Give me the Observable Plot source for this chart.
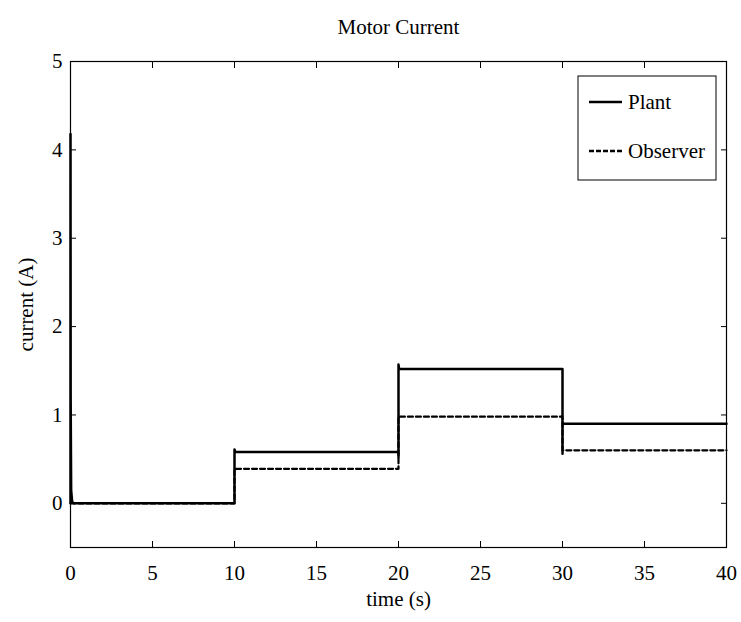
<!DOCTYPE html>
<html>
<head>
<meta charset="utf-8">
<script src="https://cdn.jsdelivr.net/npm/d3@7"></script>
<script src="https://cdn.jsdelivr.net/npm/@observablehq/plot@0.6"></script>
<style>
  body { margin: 0; background: #fff; }
  #chart { position: relative; width: 741px; height: 622px; }
</style>
</head>
<body>
<div id="chart"></div>
<script>
const title = "Motor Current";
const xLabel = "time (s)";
const yLabel = "current (A)";
const xTicks = [0, 5, 10, 15, 20, 25, 30, 35, 40];
const yTicks = [0, 1, 2, 3, 4, 5];
const seriesNames = ["Plant", "Observer"];

const plantTime    = [0, 0,    0.01, 0.04, 0.1,  0.2, 10, 10,   10.03, 10.1, 20,   20,   20,   20.03, 20.1, 30,   30,   30,   40];
const plantCurrent = [0, 4.18, 1.2,  0.15, 0.02, 0,   0,  0.61, 0.59,  0.58, 0.58, 0.52, 1.57, 1.53,  1.52, 1.52, 0.56, 0.90, 0.90];

const observerTime    = [0, 10, 10,   20,   20,   30,   30,   40];
const observerCurrent = [0, 0,  0.39, 0.39, 0.98, 0.98, 0.60, 0.60];

const plant = plantTime.map((t, i) => ({t, v: plantCurrent[i]}));
const observer = observerTime.map((t, i) => ({t, v: observerCurrent[i]}));

const font = "Liberation Serif, Times New Roman, serif";
const fs = 21;

const chart = Plot.plot({
  width: 741,
  height: 622,
  marginTop: 61,
  marginBottom: 75,
  marginLeft: 70,
  marginRight: 15,
  style: {fontFamily: font, fontSize: fs + "px", background: "#fff", color: "#000"},
  x: {domain: [0, 40], ticks: xTicks},
  y: {domain: [-0.5, 5], ticks: yTicks},
  marks: [
    Plot.axisX(xTicks, {anchor: "bottom", tickSize: -6, tickFormat: () => "", label: null, strokeWidth: 1}),
    Plot.axisX(xTicks, {anchor: "top", tickSize: -6, tickFormat: () => "", label: null, strokeWidth: 1}),
    Plot.axisX(xTicks, {anchor: "bottom", tickSize: 0, tickPadding: 18, label: null, fontSize: fs, tickFormat: d3.format("d")}),
    Plot.axisY(yTicks, {anchor: "left", tickSize: -6, tickFormat: () => "", label: null, strokeWidth: 1}),
    Plot.axisY(yTicks, {anchor: "right", tickSize: -6, tickFormat: () => "", label: null, strokeWidth: 1}),
    Plot.axisY(yTicks, {anchor: "left", tickSize: 0, tickPadding: 8, label: null, fontSize: fs, tickFormat: d3.format("d")}),
    Plot.frame({stroke: "#000", strokeWidth: 1.2}),
    Plot.line(observer, {x: "t", y: "v", stroke: "#000", strokeWidth: 2.2, strokeDasharray: "5,3"}),
    Plot.line(plant, {x: "t", y: "v", stroke: "#000", strokeWidth: 2.5}),
    Plot.text([title], {frameAnchor: "top", dy: -42, fontSize: fs, fill: "#000"}),
    Plot.text([xLabel], {frameAnchor: "bottom", dy: 58, fontSize: fs, fill: "#000"}),
    Plot.text([yLabel], {frameAnchor: "left", textAnchor: "middle", dx: -44, rotate: -90, fontSize: fs, fill: "#000"})
  ]
});

document.getElementById("chart").appendChild(chart);

// Legend (MATLAB-style box)
const svg = d3.select(chart);
const lg = svg.append("g").attr("font-family", font).attr("font-size", fs).attr("text-anchor", "start");
lg.append("rect").attr("x", 578).attr("y", 76).attr("width", 138).attr("height", 104)
  .attr("fill", "#fff").attr("stroke", "#000").attr("stroke-width", 1);
const rows = [
  {name: seriesNames[0], y: 102, dash: null, w: 2.5},
  {name: seriesNames[1], y: 151, dash: "5,2", w: 2.5}
];
rows.forEach(r => {
  lg.append("line").attr("x1", 589).attr("x2", 622).attr("y1", r.y).attr("y2", r.y)
    .attr("stroke", "#000").attr("stroke-width", r.w).attr("stroke-dasharray", r.dash);
  lg.append("text").attr("x", 628).attr("y", r.y + 7).attr("fill", "#000")
    .attr("text-anchor", "start").text(r.name);
});
</script>
</body>
</html>
